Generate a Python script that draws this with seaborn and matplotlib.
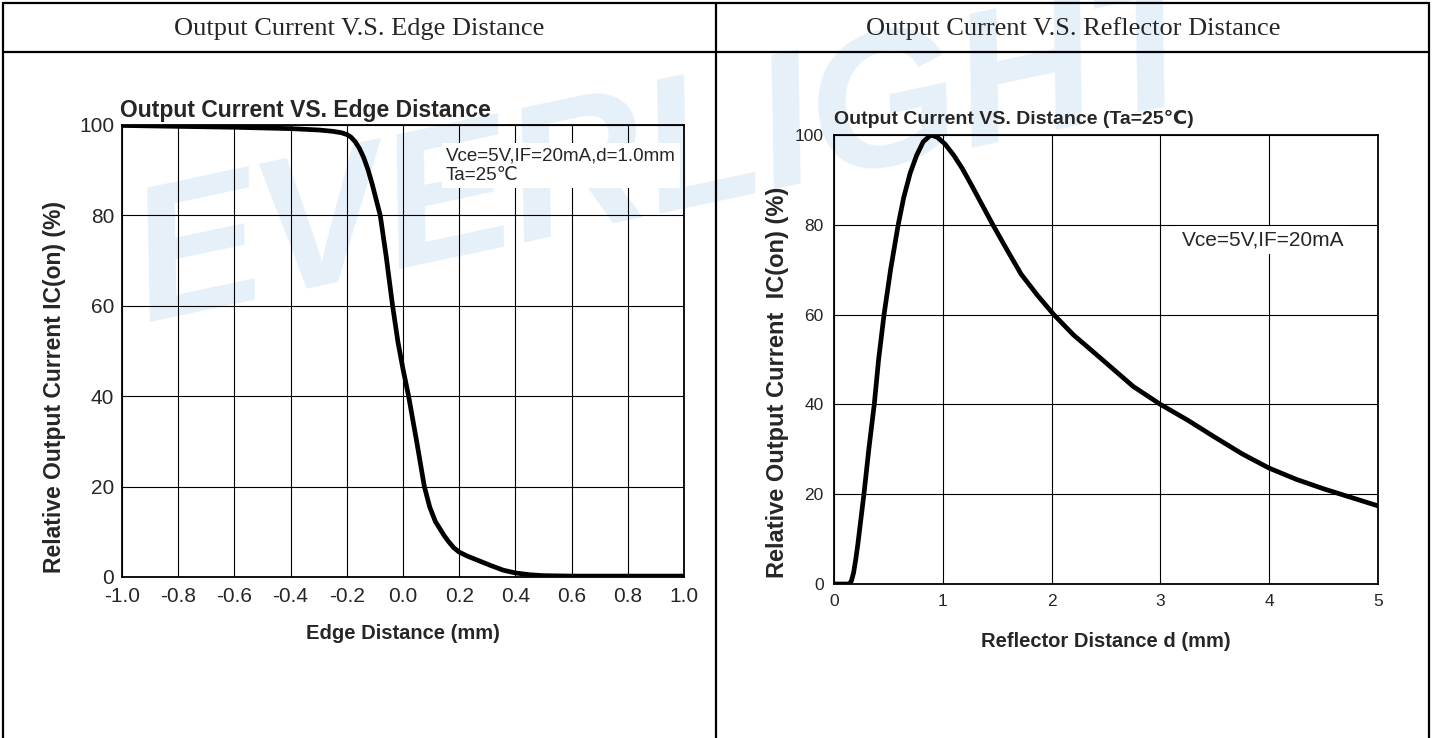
import matplotlib
matplotlib.use("Agg")
import matplotlib.pyplot as plt
import seaborn as sns

# data
edge_x = [-1.0, -0.8, -0.6, -0.4, -0.3, -0.25, -0.22, -0.2, -0.185, -0.17, -0.155, -0.14,
          -0.125, -0.11, -0.095, -0.081, -0.06, -0.037, -0.018, 0.0, 0.02, 0.05, 0.076,
          0.095, 0.115, 0.13, 0.145, 0.16, 0.18, 0.2, 0.23, 0.27, 0.31, 0.357, 0.4,
          0.45, 0.5, 0.6, 0.8, 1.0]
edge_y = [99.9, 99.7, 99.5, 99.2, 98.9, 98.6, 98.3, 97.9, 97.3, 96.3, 94.8, 92.8,
          90.2, 87, 83.4, 80, 71, 60, 52, 46, 40, 29.5, 20,
          15.5, 12.3, 10.8, 9.3, 8, 6.5, 5.5, 4.6, 3.6, 2.6, 1.5, 0.9,
          0.5, 0.3, 0.2, 0.2, 0.2]

refl_x = [0.0, 0.14, 0.16, 0.18, 0.2, 0.22, 0.245, 0.275, 0.32, 0.37, 0.41, 0.46, 0.52,
          0.59, 0.64, 0.7, 0.76, 0.82, 0.89, 0.95, 1.02, 1.1, 1.18, 1.26, 1.36, 1.46,
          1.6, 1.72, 1.87, 2.02, 2.2, 2.45, 2.75, 3.0, 3.25, 3.5, 3.75, 4.0, 4.25,
          4.5, 4.75, 5.0]
refl_y = [0, 0, 0.7, 2.5, 5.5, 9, 14, 20, 30, 40, 50, 60, 70,
          80, 86, 91.5, 95.5, 98.5, 100, 99.5, 98, 95.5, 92.5, 89, 84.5, 80,
          74, 69, 64.3, 60, 55.5, 50.3, 44, 40, 36.5, 32.7, 29, 25.8, 23.3,
          21.2, 19.3, 17.4]

edge_ticks = [-1.0, -0.8, -0.6, -0.4, -0.2, 0.0, 0.2, 0.4, 0.6, 0.8, 1.0]
refl_ticks = [0, 1, 2, 3, 4, 5]
pct_ticks = [0, 20, 40, 60, 80, 100]

sns.set_style("white")
plt.rcParams['font.family'] = ['Liberation Sans', 'DejaVu Sans']

fig = plt.figure(figsize=(14.32, 7.38), dpi=100)
W, H = 1432, 738

def fx(px):
    return px / W

def fy(py):
    return 1 - py / H

# table frame
for (x0, y0, x1, y1) in [(3, 3, 1429, 3), (3, 52, 1429, 52), (3, 3, 3, 738),
                         (1429, 3, 1429, 738), (716, 3, 716, 738)]:
    fig.add_artist(plt.Line2D([fx(x0), fx(x1)], [fy(y0), fy(y1)], color='black', lw=1.6))

serif = ['Liberation Serif', 'DejaVu Serif']
fig.text(fx(359), fy(29), "Output Current V.S. Edge Distance", ha='center', va='center',
         family=serif, fontsize=19)
fig.text(fx(1073), fy(29), "Output Current V.S. Reflector Distance", ha='center', va='center',
         family=serif, fontsize=19)

# watermark behind the plots
fig.text(fx(672), fy(160), "EVERLIGHT", ha='center', va='center', rotation=12,
         fontsize=138, fontweight='bold', style='italic', color='#e6f0f9', zorder=-1)

ax1 = fig.add_axes([fx(122), fy(577), fx(684) - fx(122), fy(125) - fy(577)])
ax2 = fig.add_axes([fx(834), fy(584), fx(1378) - fx(834), fy(135) - fy(584)])

for ax in (ax1, ax2):
    ax.set_facecolor('none')
    ax.set_ylim(0, 100)
    ax.set_yticks(pct_ticks)
    ax.grid(True, color='black', lw=0.8)
    for s in ax.spines.values():
        s.set_color('black')
        s.set_linewidth(1.3)
    ax.tick_params(axis='both', direction='inout', length=5, width=1.2, color='black')

sns.lineplot(x=edge_x, y=edge_y, ax=ax1, color='black', linewidth=3.4,
             solid_joinstyle='round', solid_capstyle='round')
ax1.set_xlim(-1.0, 1.0)
ax1.set_xticks(edge_ticks)
ax1.set_xticklabels([f"{t:.1f}" for t in edge_ticks])
ax1.tick_params(labelsize=15, pad=3)
ax1.tick_params(axis='x', pad=5)
ax1.set_title("Output Current VS. Edge Distance", loc='left',
              fontsize=16.5, fontweight='bold', pad=6, x=-0.004)
ax1.set_xlabel("Edge Distance (mm)", fontsize=14.5, fontweight='bold', labelpad=13)
ax1.set_ylabel("Relative Output Current IC(on) (%)", fontsize=16.5, fontweight='bold')
ax1.yaxis.set_label_coords(-0.1, 0.42)
ax1.text(0.153, 91, "Vce=5V,IF=20mA,d=1.0mm\nTa=25\u2103", ha='left', va='center',
         fontsize=13.5, linespacing=1.25,
         bbox=dict(facecolor='white', edgecolor='none', pad=3))

sns.lineplot(x=refl_x, y=refl_y, ax=ax2, color='black', linewidth=3.4,
             solid_joinstyle='round', solid_capstyle='round')
ax2.set_xlim(0, 5)
ax2.set_xticks(refl_ticks)
ax2.tick_params(labelsize=12.5, pad=5)
ax2.set_title("Output Current VS. Distance (Ta=25\u2103)", loc='left',
              fontsize=14, fontweight='bold', pad=8)
ax2.set_xlabel("Reflector Distance d (mm)", fontsize=14.5, fontweight='bold', labelpad=16)
ax2.set_ylabel("Relative Output Current  IC(on) (%)", fontsize=17, fontweight='bold')
ax2.yaxis.set_label_coords(-0.082, 0.45)
ax2.text(3.94, 76.6, "Vce=5V,IF=20mA", ha='center', va='center', fontsize=15,
         bbox=dict(facecolor='white', edgecolor='none', pad=3))

fig.savefig("out.png", dpi=100)
